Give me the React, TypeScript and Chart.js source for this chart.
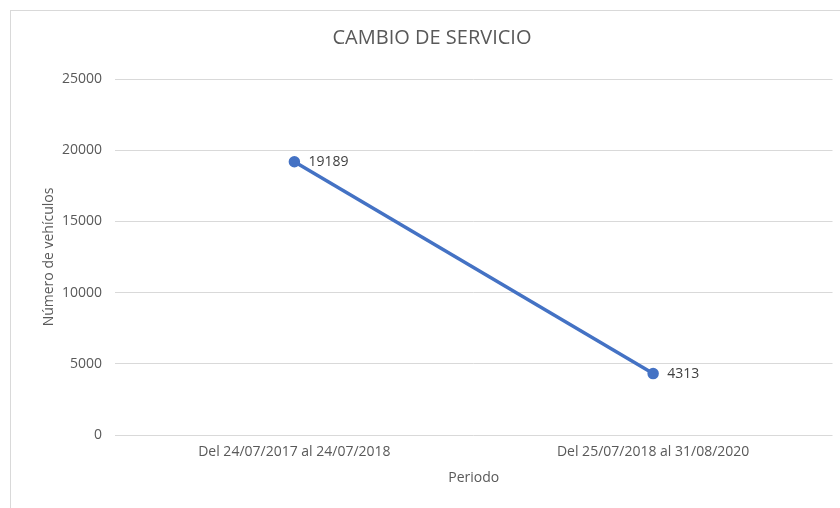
import React, { useEffect, useRef } from "react";
import { Chart, registerables } from "chart.js";

Chart.register(...registerables);

const categories = ["Del 24/07/2017 al 24/07/2018", "Del 25/07/2018 al 31/08/2020"];
const vehicles = [19189, 4313];
const yTicks = [0, 5000, 10000, 15000, 20000, 25000];

const FONT = "'Open Sans', 'Noto Sans', sans-serif";
const TEXT = "#595959";
const GRID = "#d9d9d9";
const LINE = "#4472C4";

const dataLabels = {
  id: "dataLabels",
  afterDatasetsDraw(chart: any) {
    const ctx = chart.ctx;
    const meta = chart.getDatasetMeta(0);
    ctx.save();
    ctx.font = `14px ${FONT}`;
    ctx.fillStyle = "#404040";
    ctx.textAlign = "left";
    ctx.textBaseline = "middle";
    meta.data.forEach((pt: any, i: number) => {
      ctx.fillText(String(chart.data.datasets[0].data[i]), pt.x + 14, pt.y);
    });
    ctx.restore();
  },
};

export default function App() {
  const ref = useRef<HTMLCanvasElement>(null);
  useEffect(() => {
    if (!ref.current) return;
    const chart = new Chart(ref.current, {
      type: "line",
      data: {
        labels: categories,
        datasets: [
          {
            data: vehicles,
            borderColor: LINE,
            backgroundColor: LINE,
            borderWidth: 3.5,
            pointRadius: 4,
            pointBackgroundColor: LINE,
            pointBorderColor: LINE,
            tension: 0,
          },
        ],
      },
      options: {
        animation: false,
        responsive: false,
        maintainAspectRatio: false,
        layout: { padding: { left: 31, right: 7, top: 0, bottom: 0 } },
        plugins: {
          legend: { display: false },
          tooltip: { enabled: false },
          title: {
            display: true,
            text: "CAMBIO DE SERVICIO",
            color: TEXT,
            font: { family: FONT, size: 20, weight: "normal" },
            padding: { top: 26, bottom: 29 },
          },
        },
        scales: {
          x: {
            offset: true,
            grid: { display: false, drawTicks: false },
            border: { display: false },
            ticks: {
              color: TEXT,
              font: { family: FONT, size: 14 },
              padding: 9,
              maxRotation: 0,
            },
            title: {
              display: true,
              text: "Periodo",
              color: TEXT,
              font: { family: FONT, size: 14 },
              padding: { top: 4, bottom: 22 },
            },
            afterFit: (s: any) => {
              s.height = 73;
            },
          },
          y: {
            min: 0,
            max: 25000,
            afterBuildTicks: (s: any) => {
              s.ticks = yTicks.map((v) => ({ value: v }));
            },
            grid: { color: GRID, lineWidth: 1, drawTicks: false },
            border: { display: false },
            ticks: {
              color: TEXT,
              font: { family: FONT, size: 14 },
              padding: 13,
              callback: (v: any) => String(v),
            },
            title: {
              display: true,
              text: "Número de vehículos",
              color: TEXT,
              font: { family: FONT, size: 14 },
              padding: { top: 10, bottom: 0 },
            },
            afterFit: (s: any) => {
              s.width = 84;
            },
          },
        },
      },
      plugins: [dataLabels],
    });
    return () => chart.destroy();
  }, []);
  return (
    <div style={{ position: "absolute", left: 0, top: 0, width: 840, height: 508, overflow: "hidden", background: "#fff" }}>
      <div
        style={{
          position: "absolute",
          left: 10,
          top: 10,
          width: 840,
          height: 520,
          border: `1px solid ${GRID}`,
          boxSizing: "border-box",
        }}
      />
      <canvas ref={ref} width={840} height={508} style={{ position: "absolute", left: 0, top: 0 }} />
    </div>
  );
}
